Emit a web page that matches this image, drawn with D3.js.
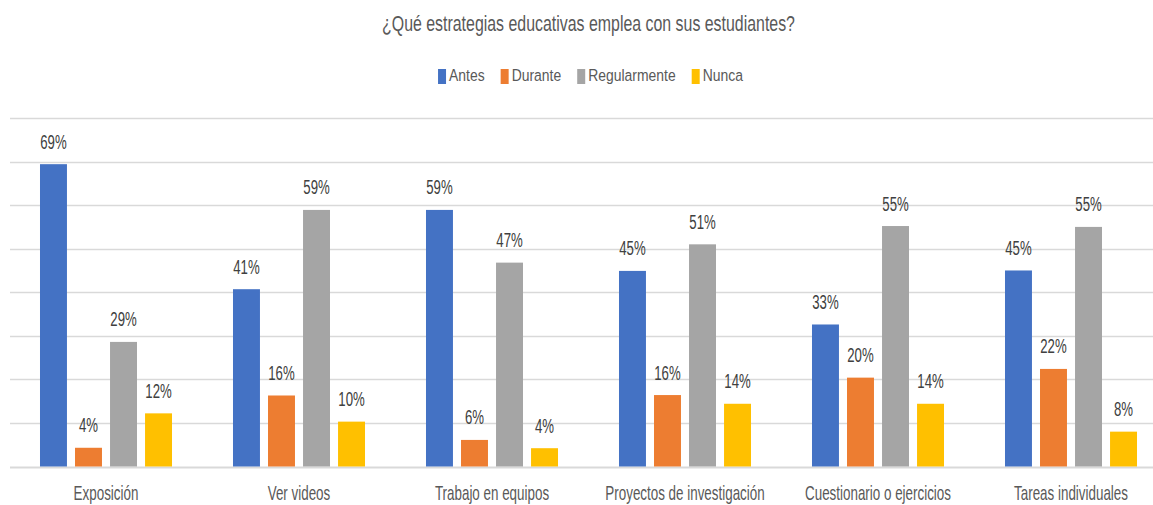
<!DOCTYPE html>
<html>
<head>
<meta charset="utf-8">
<script src="https://cdn.jsdelivr.net/npm/d3@7"></script>
<style>
  html, body { margin: 0; padding: 0; background: #ffffff; overflow: hidden; }
  svg { display: block; font-family: "Liberation Sans", Arial, sans-serif; }
</style>
</head>
<body>
<svg id="chart" width="1153" height="505"></svg>
<script>
const title = "¿Qué estrategias educativas emplea con sus estudiantes?";
const categories = ["Exposición", "Ver videos", "Trabajo en equipos", "Proyectos de investigación", "Cuestionario o ejercicios", "Tareas individuales"];
const seriesNames = ["Antes", "Durante", "Regularmente", "Nunca"];
const antes = [69.4, 40.7, 58.9, 44.9, 32.6, 45.0];
const durante = [4.3, 16.3, 6.1, 16.4, 20.4, 22.4];
const regularmente = [28.6, 58.9, 46.8, 51.0, 55.2, 55.0];
const nunca = [12.2, 10.3, 4.2, 14.4, 14.4, 8.0];
const gridTicks = [0, 10, 20, 30, 40, 50, 60, 70, 80];
const colors = ["#4472C4", "#ED7D31", "#A5A5A5", "#FFC000"];

const seriesValues = [antes, durante, regularmente, nunca];
const svg = d3.select("#chart");

const x0 = d3.scaleBand().domain(categories).range([9.5, 1167.5])
  .paddingInner(0.316).paddingOuter(0.158);
const x1 = d3.scaleBand().domain(seriesNames).range([0, x0.bandwidth()])
  .paddingInner(0.23).paddingOuter(0);
const y = d3.scaleLinear().domain([0, 80]).range([466.5, 118]);
const color = d3.scaleOrdinal().domain(seriesNames).range(colors);
const fmt = v => d3.format(".0f")(v) + "%";

function sText(parent, x, yy, str, size, sx, fill, anchor) {
  const g = parent.append("g").attr("transform", `translate(${x},${yy}) scale(${sx},1)`);
  const t = g.append("text").attr("x", 0).attr("y", 0)
    .attr("font-size", size).attr("fill", fill)
    .attr("text-anchor", anchor || "middle").text(str);
  return t;
}

// gridlines
svg.append("g").selectAll("line").data(gridTicks).join("line")
  .attr("x1", 10).attr("x2", 1160)
  .attr("y1", d => Math.round(y(d)) + 0.5).attr("y2", d => Math.round(y(d)) + 0.5)
  .attr("stroke", "#d9d9d9").attr("stroke-width", d => d === 0 ? 2 : 1.5);

// bars
const data = [];
categories.forEach((c, i) => {
  seriesNames.forEach((s, j) => data.push({ cat: c, series: s, value: seriesValues[j][i] }));
});

svg.append("g").selectAll("rect").data(data).join("rect")
  .attr("x", d => x0(d.cat) + x1(d.series))
  .attr("y", d => y(d.value))
  .attr("width", x1.bandwidth())
  .attr("height", d => y(0) - y(d.value))
  .attr("fill", d => color(d.series));

// data labels
const lab = svg.append("g");
data.forEach(d => {
  sText(lab, x0(d.cat) + x1(d.series) + x1.bandwidth() / 2, y(d.value) - 15.5, fmt(d.value), 20, 0.66, "#404040");
});

// category labels
const cl = svg.append("g");
categories.forEach(c => {
  sText(cl, x0(c) + x0.bandwidth() / 2, 500, c, 20, 0.67, "#595959");
});

// title
sText(svg, 588.5, 31, title, 21.5, 0.74, "#595959");

// legend
const legSx = 0.82, legSize = 17;
const leg = svg.append("g");
const items = [];
let cx = 0;
seriesNames.forEach((s, i) => {
  const g = leg.append("g");
  g.append("rect").attr("x", 0).attr("y", 69).attr("width", 8).attr("height", 15).attr("fill", colors[i]);
  const t = sText(g, 11, 81, s, legSize, legSx, "#595959", "start");
  const w = t.node().getComputedTextLength() * legSx;
  items.push({ g, w });
});
let total = 0;
items.forEach((it, i) => { total += 8 + 3 + it.w + (i < items.length - 1 ? 16 : 0); });
cx = 590.5 - total / 2;
items.forEach(it => {
  it.g.attr("transform", `translate(${cx},0)`);
  cx += 8 + 3 + it.w + 16;
});
</script>
</body>
</html>
